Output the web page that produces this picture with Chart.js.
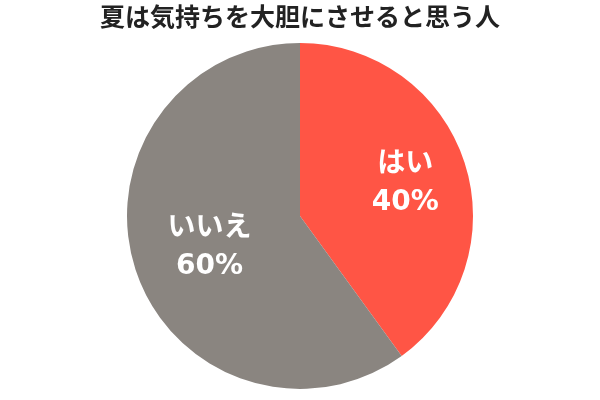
<!DOCTYPE html>
<html>
<head>
<meta charset="utf-8">
<script src="https://cdn.jsdelivr.net/npm/chart.js@4"></script>
<style>
  html, body { margin: 0; padding: 0; background: #fff; }
  #wrap { width: 600px; height: 400px; }
</style>
</head>
<body>
<div id="wrap"><canvas id="chart"></canvas></div>
<script>
const categories = ['はい', 'いいえ'];
const shares = [40, 60];
const sliceColors = ['#FF5545', '#8A8580'];
const titleText = '夏は気持ちを大胆にさせると思う人';

// how far out along the radius each label sits
const labelRatio = [0.64, 0.55];

const sliceLabels = {
    id: 'sliceLabels',
    afterDatasetsDraw(chart) {
        const ctx = chart.ctx;
        const meta = chart.getDatasetMeta(0);
        ctx.save();
        ctx.fillStyle = '#fff';
        ctx.textAlign = 'center';
        ctx.textBaseline = 'middle';
        meta.data.forEach((arc, i) => {
            const mid = (arc.startAngle + arc.endAngle) / 2;
            const r = arc.outerRadius * labelRatio[i];
            const x = arc.x + Math.cos(mid) * r;
            const y = arc.y + Math.sin(mid) * r;
            ctx.font = 'bold 28px "Noto Sans CJK JP"';
            ctx.fillText(categories[i], x, y - 20);
            ctx.font = 'bold 28px "DejaVu Sans"';
            ctx.fillText(shares[i] + '%', x, y + 21);
        });
        ctx.restore();
    }
};

new Chart(document.getElementById('chart'), {
    type: 'pie',
    data: {
        labels: categories,
        datasets: [{
            data: shares,
            backgroundColor: sliceColors,
            borderWidth: 0
        }]
    },
    options: {
        responsive: true,
        maintainAspectRatio: false,
        animation: false,
        layout: { padding: { bottom: 11 } },
        plugins: {
            legend: { display: false },
            tooltip: { enabled: false },
            title: {
                display: true,
                text: titleText,
                color: '#222',
                font: { family: '"Noto Sans CJK JP"', size: 25, weight: 'bold' },
                padding: { top: 1, bottom: 12 }
            }
        }
    },
    plugins: [sliceLabels]
});
</script>
</body>
</html>
